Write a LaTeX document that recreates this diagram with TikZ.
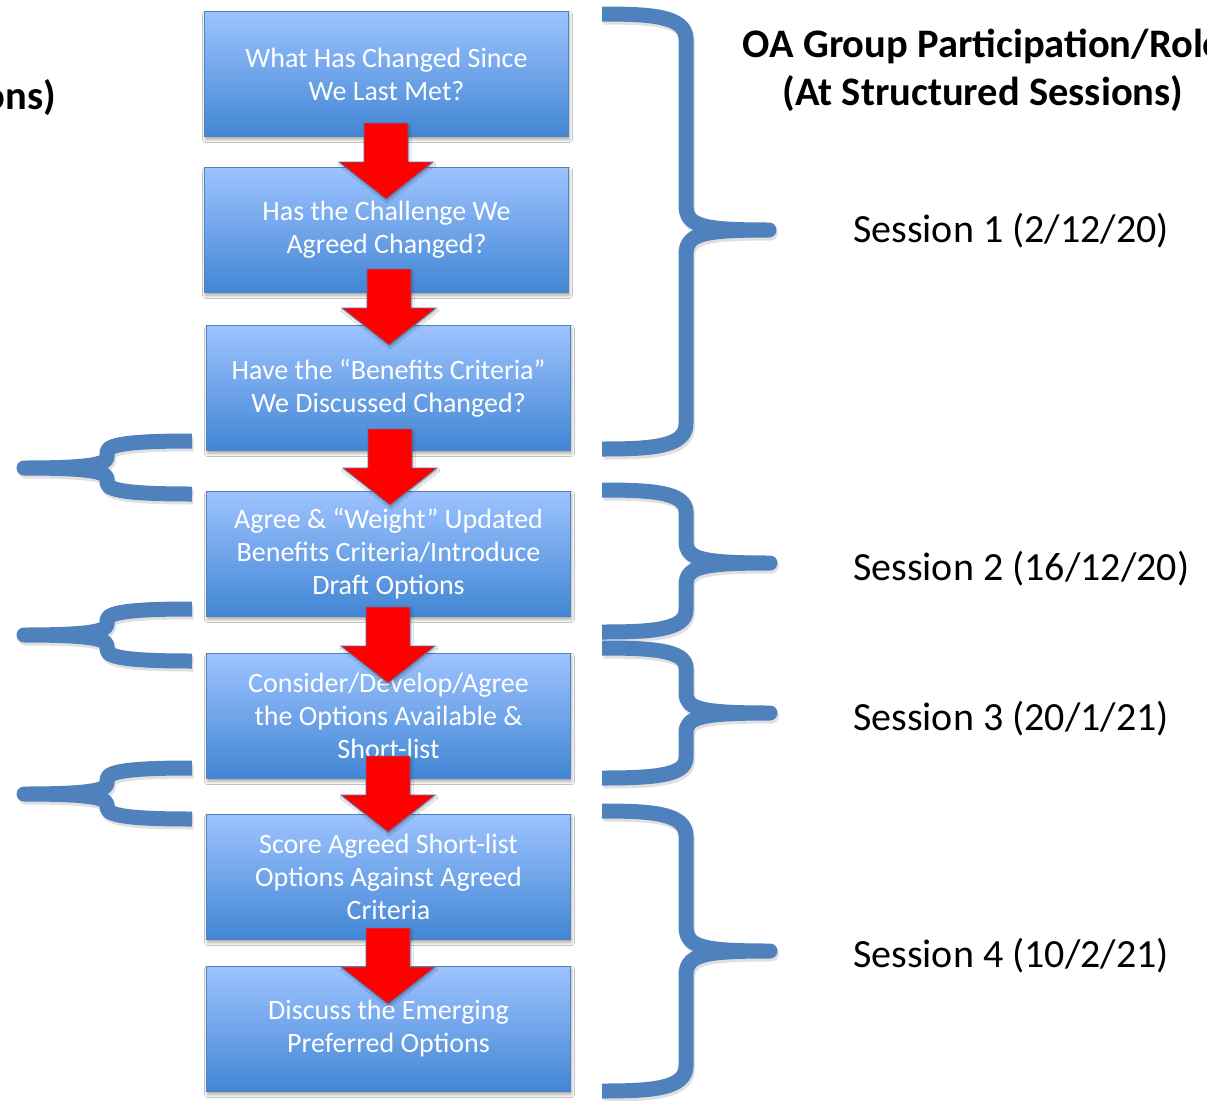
\documentclass[tikz,border=0pt]{standalone}
\usepackage{fontspec}
\setmainfont{Carlito}
\usetikzlibrary{shadows.blur}
\definecolor{bracecol}{RGB}{79,129,189}
\definecolor{boxtop}{RGB}{157,195,255}
\definecolor{boxmid}{RGB}{126,174,243}
\definecolor{boxbot}{RGB}{66,134,212}
\definecolor{boxline}{RGB}{79,129,189}
\definecolor{arrowred}{RGB}{255,0,0}
\definecolor{arrowline}{RGB}{95,115,165}
\tikzset{
  stepbox/.style={draw=boxline, line width=1pt, top color=boxtop, middle color=boxmid, bottom color=boxbot,
    minimum width=364pt, minimum height=125pt, inner sep=0pt, anchor=north west,
    text=white, align=center, font=\fontsize{28}{33}\selectfont,
    blur shadow={shadow xshift=1pt, shadow yshift=-3pt, shadow blur radius=3pt, shadow opacity=35}},
  bracestyle/.style={draw=bracecol, line width=15pt, line join=round, line cap=butt},
  braceshadow/.style={draw=black, opacity=0.12, line width=15pt, line join=round, line cap=butt},
  arrowstyle/.style={fill=arrowred, draw=arrowline, line width=0.8pt,
    blur shadow={shadow xshift=1pt, shadow yshift=-2pt, shadow blur radius=2pt, shadow opacity=30}},
  sesslabel/.style={anchor=base west, font=\fontsize{40}{48}\selectfont, inner sep=0pt},
  titlelabel/.style={anchor=base, font=\bfseries\fontsize{40.5}{48}\selectfont, inner sep=0pt}
}
% #1 direction (1 right, -1 left), #2 arm end x, #3 spine x, #4 tip x, #5 top y, #6 tip y, #7 bottom y, #8 corner size, #9 style
\newcommand\BraceShape[9]{%
  \draw[#9] (#2,#5) .. controls ({#3-(#1)*35},#5) and (#3,{#5+2}) .. (#3,{#5+#8})
    -- (#3,{#6-#8}) .. controls (#3,{#6-4}) and ({#3+(#1)*15},#6) .. (#4,#6)
    .. controls ({#3+(#1)*15},#6) and (#3,{#6+4}) .. (#3,{#6+#8})
    -- (#3,{#7-#8}) .. controls (#3,{#7-2}) and ({#3-(#1)*35},#7) .. (#2,#7);}
\newcommand\TwoBrace[8]{%
  \begin{scope}[shift={(1.5,3)}]\BraceShape{#1}{#2}{#3}{#4}{#5}{#6}{#7}{#8}{braceshadow}\end{scope}
  \BraceShape{#1}{#2}{#3}{#4}{#5}{#6}{#7}{#8}{bracestyle}}
\newcommand\BlockArrow[2]{%
  \filldraw[arrowstyle] ({#1-22},#2) -- ({#1+22},#2) -- ({#1+22},{#2+39}) -- ({#1+47},{#2+39})
    -- (#1,{#2+76}) -- ({#1-47},{#2+39}) -- ({#1-22},{#2+39}) -- cycle;}
\begin{document}
\begin{tikzpicture}[x=1pt,y=-1pt]
\useasboundingbox (0,0) rectangle (1207,1100);
\fill[white] (0,0) rectangle (1207,1100);
% right braces
\TwoBrace{1}{602}{686}{769}{14}{230}{449}{25}
\TwoBrace{1}{602}{686}{770}{490}{563}{632}{22}
\TwoBrace{1}{602}{686}{770}{648}{713}{778}{20}
\TwoBrace{1}{602}{686}{770}{811}{951}{1091}{25}
% left braces
\TwoBrace{-1}{192}{107}{24}{441}{468}{494}{11}
\TwoBrace{-1}{192}{107}{24}{609}{635}{661}{11}
\TwoBrace{-1}{192}{107}{24}{768}{794}{819}{11}
% boxes
\node[stepbox] (b1) at (204,11) {What Has Changed Since\\We Last Met?};
\node[stepbox] (b2) at (204,167) {Has the Challenge We\\Agreed Changed?};
\node[stepbox] (b3) at (206,325) {Have the “Benefits Criteria”\\We Discussed Changed?};
\node[stepbox] (b4) at (206,491) {Agree \& “Weight” Updated\\Benefits Criteria/Introduce\\Draft Options};
\node[stepbox] (b5) at (206,653) {Consider/Develop/Agree\\the Options Available \&\\Short-list};
\node[stepbox] (b6) at (206,814) {Score Agreed Short-list\\Options Against Agreed\\Criteria};
\node[stepbox] (b7) at (206,966) {Discuss the Emerging\\Preferred Options};
% arrows
\BlockArrow{386}{123}
\BlockArrow{389}{269}
\BlockArrow{390}{429}
\BlockArrow{388}{607}
\BlockArrow{388}{756}
\BlockArrow{388}{928}
% titles
\node[titlelabel] (t1) at (983,57) {OA Group Participation/Role};
\node[titlelabel] (t2) at (983,105) {(At Structured Sessions)};
\node[titlelabel, anchor=base east] (tl) at (56,109) {ons)};
% sessions
\node[sesslabel] (s1) at (853,242) {Session 1 (2/12/20)};
\node[sesslabel] (s2) at (853,580) {Session 2 (16/12/20)};
\node[sesslabel] (s3) at (853,730) {Session 3 (20/1/21)};
\node[sesslabel] (s4) at (853,967) {Session 4 (10/2/21)};
\end{tikzpicture}
\end{document}
